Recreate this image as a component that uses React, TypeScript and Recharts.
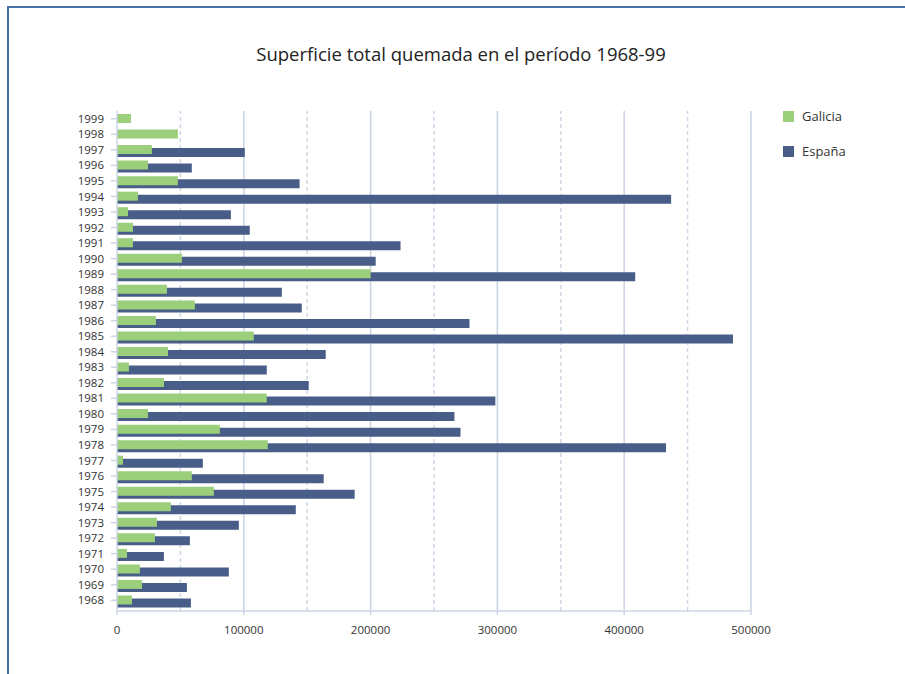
import { Bar, BarChart, ReferenceLine, XAxis, YAxis } from 'recharts';

const YEARS = [
  1968, 1969, 1970, 1971, 1972, 1973, 1974, 1975, 1976, 1977, 1978, 1979, 1980, 1981, 1982, 1983,
  1984, 1985, 1986, 1987, 1988, 1989, 1990, 1991, 1992, 1993, 1994, 1995, 1996, 1997, 1998, 1999,
];

const GALICIA = [
  11800, 19700, 18100, 7900, 29900, 31500, 42500, 76400, 59000, 4700, 118900, 81100, 24400, 118100, 37000, 9400,
  40200, 107900, 30700, 61400, 39400, 200000, 51200, 12600, 12600, 8700, 16500, 48000, 24400, 27500, 48000, 11000,
];

const ESPANA = [
  58300, 55100, 88200, 37000, 57500, 96100, 141000, 187400, 163000, 67700, 433000, 270900, 266100, 298400, 151200, 118100,
  164600, 485800, 278000, 145700, 130000, 408700, 204000, 223600, 104700, 89800, 437000, 144000, 59000, 100800, null, null,
];

const X_TICKS = [0, 100000, 200000, 300000, 400000, 500000];
const SOLID_GRID = [100000, 200000, 300000, 400000, 500000];
const DASHED_GRID = [50000, 150000, 250000, 350000, 450000];

const SERIES = [
  { key: 'galicia', name: 'Galicia', color: '#9bcf7b' },
  { key: 'espana', name: 'España', color: '#485d87' },
];

const TITLE = 'Superficie total quemada en el período 1968-99';

const FONT = '"Open Sans", "Noto Sans", sans-serif';
const GRID = '#ccd5e4';

const rows = YEARS.map((y, i) => ({ year: String(y), galicia: GALICIA[i], espana: ESPANA[i] }));

export default function App() {
  return (
    <div
      style={{
        position: 'absolute',
        left: 0,
        top: 0,
        width: 905,
        height: 674,
        background: '#fff',
        fontFamily: FONT,
        overflow: 'hidden',
      }}
    >
      {/* frame */}
      <div
        style={{
          position: 'absolute',
          left: 7,
          top: 6,
          width: 920,
          height: 700,
          borderTop: '2px solid #4470a6',
          borderLeft: '2px solid #4470a6',
        }}
      />
      <div
        style={{
          position: 'absolute',
          left: 0,
          top: 41,
          width: 922,
          textAlign: 'center',
          fontSize: 18.5,
          color: '#222',
          whiteSpace: 'nowrap',
        }}
      >
        {TITLE}
      </div>

      <div style={{ position: 'absolute', left: 0, top: 0 }}>
        <BarChart
          width={905}
          height={674}
          data={rows}
          layout="vertical"
          margin={{ top: 111, right: 154, left: 0, bottom: 33 }}
        >
          {SOLID_GRID.map((v) => (
            <ReferenceLine key={`s${v}`} x={v} yAxisId="g" stroke={GRID} strokeWidth={1.6} zIndex={-50} />
          ))}
          {DASHED_GRID.map((v) => (
            <ReferenceLine
              key={`d${v}`}
              x={v}
              yAxisId="g"
              stroke={GRID}
              strokeWidth={1.4}
              strokeDasharray="4 3"
              zIndex={-50}
            />
          ))}
          <XAxis
            type="number"
            domain={[0, 500000]}
            ticks={X_TICKS}
            interval={0}
            height={30}
            tickFormatter={(v) => String(v)}
            axisLine={{ stroke: GRID, strokeWidth: 1.5 }}
            tickLine={{ stroke: GRID, strokeWidth: 1.5 }}
            tickSize={4}
            tickMargin={11}
            tick={{ fontSize: 11.5, fill: '#333', fontFamily: FONT }}
          />
          <YAxis
            yAxisId="e"
            type="category"
            dataKey="year"
            reversed
            hide
            width={0}
            padding={{ top: 3, bottom: 0 }}
          />
          <YAxis
            yAxisId="g"
            type="category"
            dataKey="year"
            reversed
            width={117}
            interval={0}
            padding={{ top: 0, bottom: 3 }}
            axisLine={{ stroke: GRID, strokeWidth: 1.5 }}
            tickLine={{ stroke: GRID, strokeWidth: 1.5 }}
            tickSize={6}
            tickMargin={7}
            tick={{ fontSize: 11.5, fill: '#333', fontFamily: FONT }}
          />
          <Bar
            dataKey="espana"
            name="España"
            yAxisId="e"
            fill={SERIES[1].color}
            barSize={9}
            isAnimationActive={false}
          />
          <Bar
            dataKey="galicia"
            name="Galicia"
            yAxisId="g"
            fill={SERIES[0].color}
            barSize={9}
            isAnimationActive={false}
          />
        </BarChart>
      </div>

      {/* legend */}
      <div style={{ position: 'absolute', left: 783, top: 106 }}>
        {SERIES.map((s) => (
          <div key={s.key} style={{ display: 'flex', alignItems: 'center', height: 20, marginBottom: 15 }}>
            <span style={{ width: 11, height: 11, background: s.color, display: 'inline-block' }} />
            <span style={{ marginLeft: 8, fontSize: 13, color: '#333' }}>{s.name}</span>
          </div>
        ))}
      </div>
    </div>
  );
}
